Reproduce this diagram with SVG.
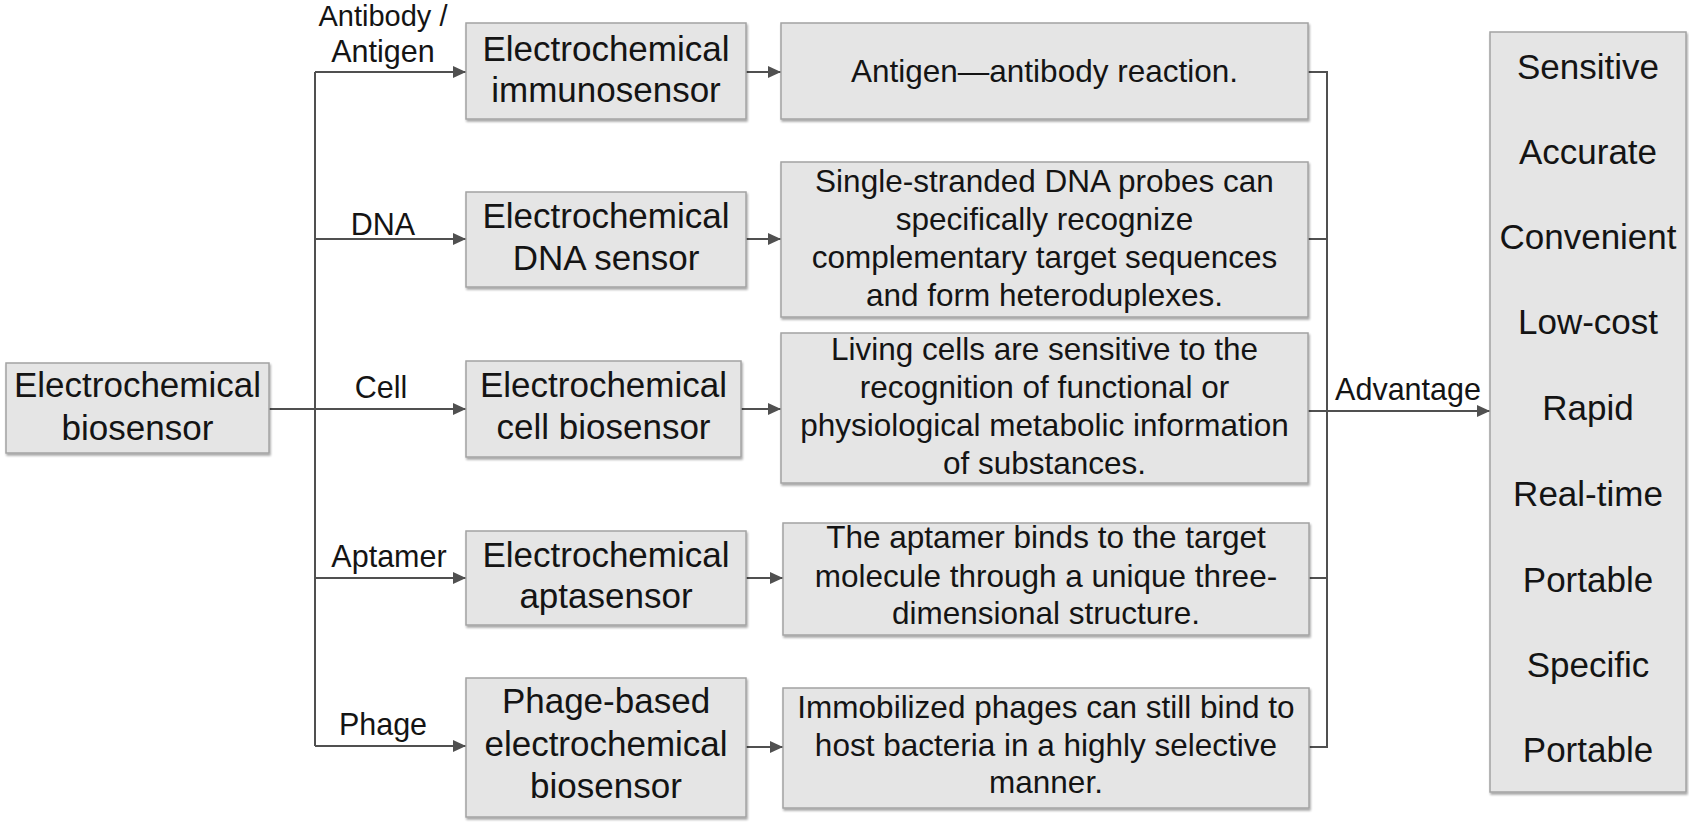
<svg xmlns="http://www.w3.org/2000/svg" width="1689" height="823" viewBox="0 0 1689 823">
<defs>
<style>
.box{fill:#e5e5e5;stroke:#a3a3a3;stroke-width:1.5;filter:url(#sh)}
.t{font-family:"Liberation Sans",Arial,sans-serif;fill:#141414;text-anchor:middle}
.big{font-size:35px}
.desc{font-size:31.5px}
.lab{font-size:30.5px}
.ln{fill:none;stroke:#505050;stroke-width:2}
.arr{marker-end:url(#ah)}
</style>
<filter id="sh" x="-5%" y="-5%" width="110%" height="115%">
<feDropShadow dx="1" dy="2" stdDeviation="1.2" flood-color="#000" flood-opacity="0.35"/>
</filter>
<marker id="ah" markerUnits="userSpaceOnUse" markerWidth="13" markerHeight="12" refX="13" refY="6" orient="auto">
<path d="M0,0 L13,6 L0,12 z" fill="#505050"/>
</marker>
</defs>
<rect width="1689" height="823" fill="#ffffff"/>

<g id="connectors">
<path class="ln" d="M269 409 H315"/>
<path class="ln" d="M315 72 V746"/>
<path class="ln arr" d="M315 409 H466"/>
<path class="ln arr" d="M315 72 H466"/>
<path class="ln arr" d="M315 239 H466"/>
<path class="ln arr" d="M315 578 H466"/>
<path class="ln arr" d="M315 746 H466"/>
<path class="ln arr" d="M746 72 H781"/>
<path class="ln arr" d="M746 239 H781"/>
<path class="ln arr" d="M741 409 H781"/>
<path class="ln arr" d="M746 578 H783"/>
<path class="ln arr" d="M746 747 H783"/>
<path class="ln" d="M1308 72 H1327 V747 H1309"/>
<path class="ln" d="M1308 239 H1327"/>
<path class="ln" d="M1309 578 H1327"/>
<path class="ln arr" d="M1308 411 H1490"/>
<text class="t lab" x="383" y="26" style="font-size:29px">Antibody /</text>
<text class="t lab" x="383" y="62">Antigen</text>
<text class="t lab" x="383" y="235">DNA</text>
<text class="t lab" x="381" y="398">Cell</text>
<text class="t lab" x="389" y="567">Aptamer</text>
<text class="t lab" x="383" y="735">Phage</text>
<text class="t lab" x="1408" y="400">Advantage</text>
</g>

<g id="root">
<rect class="box" x="6" y="363" width="263" height="90"/>
<text class="t big" x="137.5" y="397">Electrochemical</text>
<text class="t big" x="137.5" y="440">biosensor</text>
</g>

<g id="immunosensor">
<rect class="box" x="466" y="23" width="280" height="96"/>
<text class="t big" x="606" y="61">Electrochemical</text>
<text class="t big" x="606" y="102">immunosensor</text>
</g>
<g id="dna-sensor">
<rect class="box" x="466" y="192" width="280" height="95"/>
<text class="t big" x="606" y="228">Electrochemical</text>
<text class="t big" x="606" y="270">DNA sensor</text>
</g>
<g id="cell-biosensor">
<rect class="box" x="466" y="361" width="275" height="96"/>
<text class="t big" x="603.5" y="397">Electrochemical</text>
<text class="t big" x="603.5" y="439">cell biosensor</text>
</g>
<g id="aptasensor">
<rect class="box" x="466" y="531" width="280" height="94"/>
<text class="t big" x="606" y="567">Electrochemical</text>
<text class="t big" x="606" y="608">aptasensor</text>
</g>
<g id="phage-biosensor">
<rect class="box" x="466" y="678" width="280" height="139"/>
<text class="t big" x="606" y="713">Phage-based</text>
<text class="t big" x="606" y="756">electrochemical</text>
<text class="t big" x="606" y="798">biosensor</text>
</g>

<g id="desc-immuno">
<rect class="box" x="781" y="23" width="527" height="96"/>
<text class="t desc" x="1044.5" y="82">Antigen—antibody reaction.</text>
</g>
<g id="desc-dna">
<rect class="box" x="781" y="162" width="527" height="155"/>
<text class="t desc" x="1044.5" y="192">Single-stranded DNA probes can</text>
<text class="t desc" x="1044.5" y="230">specifically recognize</text>
<text class="t desc" x="1044.5" y="268">complementary target sequences</text>
<text class="t desc" x="1044.5" y="306">and form heteroduplexes.</text>
</g>
<g id="desc-cell">
<rect class="box" x="781" y="333" width="527" height="150"/>
<text class="t desc" x="1044.5" y="360">Living cells are sensitive to the</text>
<text class="t desc" x="1044.5" y="398">recognition of functional or</text>
<text class="t desc" x="1044.5" y="436">physiological metabolic information</text>
<text class="t desc" x="1044.5" y="474">of substances.</text>
</g>
<g id="desc-aptamer">
<rect class="box" x="783" y="523" width="526" height="112"/>
<text class="t desc" x="1046" y="548">The aptamer binds to the target</text>
<text class="t desc" x="1046" y="587">molecule through a unique three-</text>
<text class="t desc" x="1046" y="624">dimensional structure.</text>
</g>
<g id="desc-phage">
<rect class="box" x="783" y="688" width="526" height="120"/>
<text class="t desc" x="1046" y="718">Immobilized phages can still bind to</text>
<text class="t desc" x="1046" y="756">host bacteria in a highly selective</text>
<text class="t desc" x="1046" y="793">manner.</text>
</g>

<g id="advantages">
<rect class="box" x="1490" y="32" width="196" height="760"/>
<text class="t big" x="1588" y="79">Sensitive</text>
<text class="t big" x="1588" y="164">Accurate</text>
<text class="t big" x="1588" y="249">Convenient</text>
<text class="t big" x="1588" y="334">Low-cost</text>
<text class="t big" x="1588" y="420">Rapid</text>
<text class="t big" x="1588" y="506">Real-time</text>
<text class="t big" x="1588" y="592">Portable</text>
<text class="t big" x="1588" y="677">Specific</text>
<text class="t big" x="1588" y="762">Portable</text>
</g>
</svg>
